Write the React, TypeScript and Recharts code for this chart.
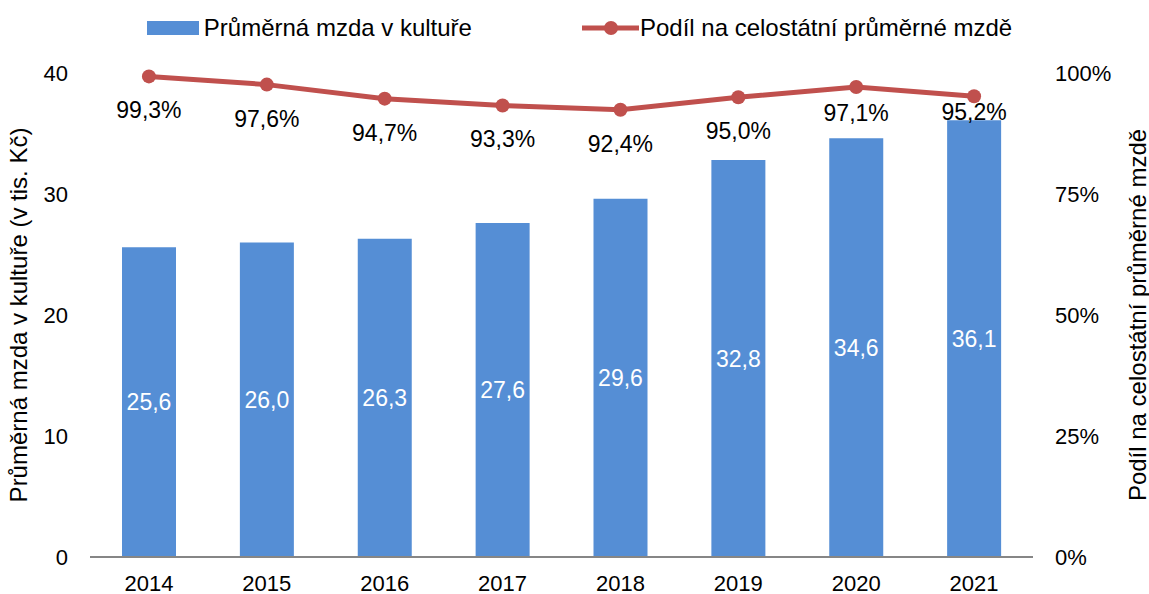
import React from "react";
import {
  ComposedChart,
  Bar,
  Line,
  XAxis,
  YAxis,
  Legend,
  LabelList,
} from "recharts";

const years = ["2014", "2015", "2016", "2017", "2018", "2019", "2020", "2021"];
const wages = [25.6, 26.0, 26.3, 27.6, 29.6, 32.8, 34.6, 36.1];
const shares = [99.3, 97.6, 94.7, 93.3, 92.4, 95.0, 97.1, 95.2];
const wageTicks = [0, 10, 20, 30, 40];
const shareTicks = [0, 25, 50, 75, 100];

const BAR_NAME = "Průměrná mzda v kultuře";
const LINE_NAME = "Podíl na celostátní průměrné mzdě";
const LEFT_TITLE = "Průměrná mzda v kultuře (v tis. Kč)";

const BLUE = "#558ED5";
const RED = "#C0504D";
const FONT = "'Liberation Sans', Arial, sans-serif";

const data = years.map((year, i) => ({
  year,
  wage: wages[i],
  share: shares[i],
}));

const comma = (v: number) => v.toFixed(1).replace(".", ",");

// Excel nudged the last two labels up so they don't sit on the bars
const labelDrop = (index: number) => (index === 7 ? 16 : index === 6 ? 26 : 34);

function ShareLabel(props: any) {
  const { x, y, value, index } = props;
  return (
    <text
      x={x}
      y={y + labelDrop(index)}
      textAnchor="middle"
      dominantBaseline="central"
      fontSize={23}
      fill="#000"
    >
      {comma(Number(value))}%
    </text>
  );
}

function LegendBox() {
  return (
    <div
      style={{
        height: 63,
        display: "flex",
        justifyContent: "center",
        alignItems: "flex-start",
        gap: 110,
        fontSize: 24,
        color: "#000",
        paddingLeft: 10,
      }}
    >
      <div style={{ display: "flex", alignItems: "center", height: 36 }}>
        <span style={{ width: 52, height: 14, background: BLUE, marginRight: 5 }} />
        <span>{BAR_NAME}</span>
      </div>
      <div style={{ display: "flex", alignItems: "center", height: 36 }}>
        <svg width={57} height={16} style={{ marginRight: 1 }}>
          <line x1={0} y1={8} x2={57} y2={8} stroke={RED} strokeWidth={5} strokeLinecap="round" />
          <circle cx={29} cy={8} r={7} fill={RED} />
        </svg>
        <span>{LINE_NAME}</span>
      </div>
    </div>
  );
}

const axisTitle = (text: string, shift: number) => (props: any) => {
  const vb = props.viewBox || {};
  const x = vb.x + shift;
  const y = vb.y + vb.height / 2;
  return (
    <text
      x={x}
      y={y}
      transform={`rotate(-90, ${x}, ${y})`}
      textAnchor="middle"
      dominantBaseline="central"
      fontSize={24}
      fill="#000"
    >
      {text}
    </text>
  );
};

export default function App() {
  const tick = { fontSize: 22, fill: "#000" };
  return (
    <div style={{ position: "absolute", left: 0, top: 0, fontFamily: FONT, background: "#fff" }}>
      <ComposedChart
        width={1149}
        height={594}
        data={data}
        margin={{ top: 10, right: 0, bottom: 0, left: 0 }}
      >
        <Legend verticalAlign="top" content={() => <LegendBox />} />
        <XAxis
          dataKey="year"
          height={37}
          tickLine={false}
          tickSize={0}
          tickMargin={18}
          axisLine={{ stroke: "#868686", strokeWidth: 2 }}
          tick={tick}
        />
        <YAxis
          yAxisId="left"
          width={90}
          domain={[0, 40]}
          ticks={wageTicks}
          axisLine={false}
          tickLine={false}
          tickSize={0}
          tickMargin={22}
          tick={tick}
          label={{ content: axisTitle(LEFT_TITLE, 18) }}
        />
        <YAxis
          yAxisId="right"
          orientation="right"
          width={116}
          domain={[0, 100]}
          ticks={shareTicks}
          tickFormatter={(v: number) => `${v}%`}
          axisLine={false}
          tickLine={false}
          tickSize={0}
          tickMargin={22}
          tick={tick}
          label={{ content: axisTitle(LINE_NAME, 104) }}
        />
        <Bar
          yAxisId="left"
          dataKey="wage"
          name={BAR_NAME}
          fill={BLUE}
          barSize={54}
          isAnimationActive={false}
        >
          <LabelList
            dataKey="wage"
            position="center"
            fill="#fff"
            fontSize={23}
            formatter={(v: any) => comma(Number(v))}
          />
        </Bar>
        <Line
          yAxisId="right"
          dataKey="share"
          name={LINE_NAME}
          stroke={RED}
          strokeWidth={5}
          dot={{ r: 7, fill: RED, stroke: RED, strokeWidth: 0 }}
          activeDot={false}
          isAnimationActive={false}
        >
          <LabelList dataKey="share" content={<ShareLabel />} />
        </Line>
      </ComposedChart>
    </div>
  );
}
